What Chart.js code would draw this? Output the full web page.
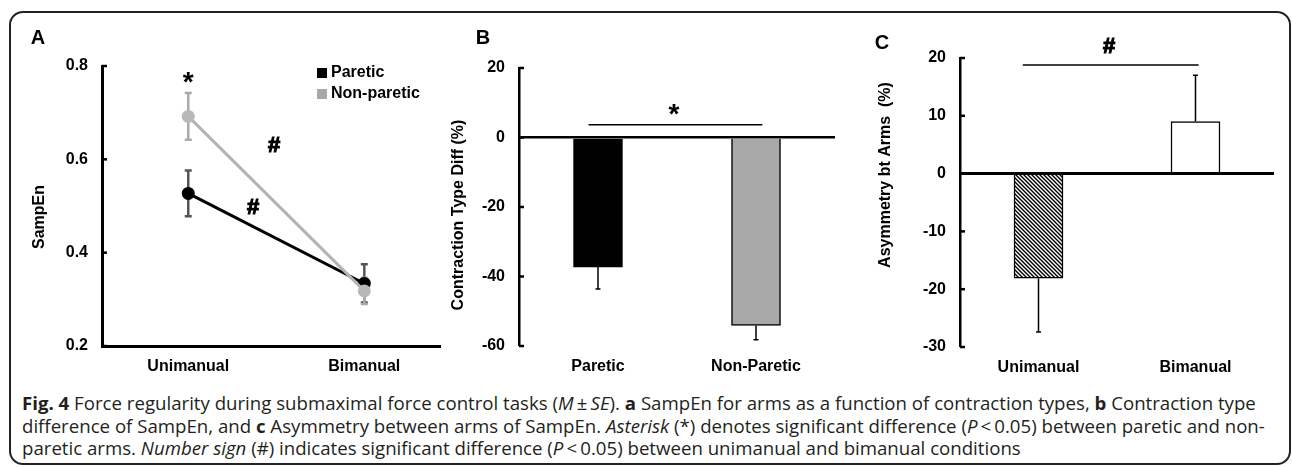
<!DOCTYPE html>
<html>
<head>
<meta charset="utf-8">
<script src="https://cdn.jsdelivr.net/npm/chart.js@4.4.0/dist/chart.umd.min.js"></script>
<style>
  body { margin: 0; width: 1292px; height: 467px; background: #fff; position: relative; overflow: hidden; }
  .frame { position: absolute; left: 9px; top: 11px; width: 1278px; height: 450px; border: 2px solid #222; border-radius: 14px; }
  .panel { position: absolute; top: 0; }
  #caption { position: absolute; left: 22px; top: 392px; font-family: "Open Sans", sans-serif; font-size: 18.65px;
             line-height: 22.5px; color: #231f20; white-space: nowrap; }
  #fontprobe { position: absolute; left: -999px; top: 0; font: bold 16px "Liberation Sans"; }
</style>
</head>
<body>
<div class="frame"></div>
<span id="fontprobe">Unimanual 0.8 #*</span>
<canvas id="chartA" class="panel" style="left:0px" width="450" height="380"></canvas>
<canvas id="chartB" class="panel" style="left:450px" width="395" height="380"></canvas>
<canvas id="chartC" class="panel" style="left:845px" width="440" height="380"></canvas>
<div id="caption">
<b>Fig. 4</b> Force regularity during submaximal force control tasks (<i>M</i>&#8201;±&#8201;<i>SE</i>). <b>a</b> SampEn for arms as a function of contraction types, <b>b</b> Contraction type<br>
difference of SampEn, and <b>c</b> Asymmetry between arms of SampEn. <i>Asterisk</i> (*) denotes significant difference (<i>P</i>&#8201;&lt;&#8201;0.05) between paretic and non-<br>
paretic arms. <i>Number sign</i> (#) indicates significant difference (<i>P</i>&#8201;&lt;&#8201;0.05) between unimanual and bimanual conditions
</div>
<script>
// ---- data ----
const contractionTypes = ['Unimanual', 'Bimanual'];
const sampEnParetic = [0.527, 0.334];
const sampEnPareticSE = [0.049, 0.041];
const sampEnNonParetic = [0.692, 0.318];
const sampEnNonPareticSE = [0.05, 0.028];
const ticksA = [0.2, 0.4, 0.6, 0.8];

const armLabels = ['Paretic', 'Non-Paretic'];
const typeDiff = [-37.3, -54.1];
const typeDiffSE = [6.3, 4.1];
const ticksB = [-60, -40, -20, 0, 20];

const asymLabels = ['Unimanual', 'Bimanual'];
const asymmetry = [-18.1, 9.0];
const asymmetrySE = [9.3, 8.0];
const ticksC = [-30, -20, -10, 0, 10, 20];

const FONT = '"Liberation Sans", Arial, sans-serif';

Chart.defaults.font.family = FONT;
Chart.defaults.font.weight = 'bold';
Chart.defaults.font.size = 16;
Chart.defaults.color = '#000';

// hatch pattern for the unimanual bar in C
function hatch() {
  const c = document.createElement('canvas');
  c.width = 4; c.height = 4;
  const g = c.getContext('2d');
  g.fillStyle = '#fff';
  g.fillRect(0, 0, 4, 4);
  g.strokeStyle = '#000';
  g.lineWidth = 1.4;
  for (let k = -1; k <= 1; k++) {
    g.beginPath();
    g.moveTo(k * 4 - 1, -1);
    g.lineTo(k * 4 + 5, 5);
    g.stroke();
  }
  return g.createPattern(c, 'repeat');
}

function xAt(scale, v) {
  if (scale.type === 'linear') return scale.getPixelForValue(v);
  const p0 = scale.getPixelForValue(0), p1 = scale.getPixelForValue(1);
  return p0 + v * (p1 - p0);
}

const decor = {
  id: 'decor',
  beforeDatasetsDraw(chart) {
    const { ctx, scales: { y } } = chart;
    chart.data.datasets.forEach((ds, di) => {
      if (!ds.errors) return;
      const meta = chart.getDatasetMeta(di);
      ctx.save();
      ctx.strokeStyle = ds.errorColor;
      ctx.lineWidth = ds.errorWidth;
      meta.data.forEach((el, i) => {
        const d = ds.data[i];
        const v = typeof d === 'object' ? d.y : d;
        const e = ds.errors[i];
        const lo = ds.oneSided ? v : v - e;
        const hi = ds.oneSided ? v + Math.sign(v) * e : v + e;
        const px = el.x, y1 = y.getPixelForValue(lo), y2 = y.getPixelForValue(hi);
        ctx.beginPath();
        ctx.moveTo(px, y1); ctx.lineTo(px, y2);
        const ends = ds.oneSided ? [y2] : [y1, y2];
        ends.forEach(yy => { ctx.moveTo(px - ds.capHalf, yy); ctx.lineTo(px + ds.capHalf, yy); });
        ctx.stroke();
      });
      ctx.restore();
    });
  },
  afterDraw(chart) {
    const o = chart.options.plugins.decor;
    const { ctx, scales: { x, y } } = chart;
    ctx.save();
    // inward ticks on the y axis
    ctx.strokeStyle = '#000';
    ctx.lineWidth = o.tickWidth;
    y.ticks.forEach(t => {
      const py = y.getPixelForValue(t.value);
      ctx.beginPath();
      ctx.moveTo(x.left, py); ctx.lineTo(x.left + o.tickLen, py);
      ctx.stroke();
    });
    // panel letter
    ctx.fillStyle = '#000';
    ctx.textAlign = 'center';
    ctx.textBaseline = 'middle';
    ctx.font = 'bold 20px ' + FONT;
    ctx.fillText(o.letter.text, o.letter.x, o.letter.y);
    // y title
    ctx.save();
    ctx.translate(o.yTitle.x, o.yTitle.y);
    ctx.rotate(-Math.PI / 2);
    ctx.font = 'bold 16px ' + FONT;
    ctx.fillText(o.yTitle.text, 0, 0);
    ctx.restore();
    // significance lines
    (o.lines || []).forEach(l => {
      const py = y.getPixelForValue(l.y);
      ctx.lineWidth = 1.5;
      ctx.beginPath();
      ctx.moveTo(xAt(x, l.x1), py); ctx.lineTo(xAt(x, l.x2), py);
      ctx.stroke();
    });
    // significance marks (# drawn with a thin outline so it reads as heavy)
    (o.marks || []).forEach(m => {
      ctx.font = 'bold ' + m.size + 'px ' + FONT;
      const px = xAt(x, m.x), py = y.getPixelForValue(m.y);
      ctx.fillText(m.text, px, py);
      if (m.text === '#') {
        ctx.lineWidth = 1.1;
        ctx.strokeText(m.text, px, py);
      }
    });
    // legend
    if (o.legend) {
      ctx.textAlign = 'left';
      ctx.font = 'bold 16px ' + FONT;
      chart.data.datasets.forEach((ds, i) => {
        const ly = o.legend.y + i * o.legend.gap;
        ctx.fillStyle = ds.legendColor;
        ctx.fillRect(o.legend.x, ly - 5, 10, 10);
        ctx.fillStyle = '#000';
        ctx.fillText(ds.label, o.legend.x + 14, ly);
      });
    }
    ctx.restore();
  }
};

const noGrid = { display: false, drawTicks: false };

function build() {
  // ---- A: SampEn by contraction type ----
  new Chart(document.getElementById('chartA'), {
    type: 'line',
    data: {
      datasets: [
        {
          label: 'Paretic', data: sampEnParetic.map((v, i) => ({ x: i, y: v })),
          borderColor: '#000', backgroundColor: '#000', pointBackgroundColor: '#000', pointBorderWidth: 0,
          borderWidth: 3, pointRadius: 6.5, order: 1, legendColor: '#000',
          errors: sampEnPareticSE, errorColor: '#555', errorWidth: 2.5, capHalf: 3.5
        },
        {
          label: 'Non-paretic', data: sampEnNonParetic.map((v, i) => ({ x: i, y: v })),
          borderColor: '#b3b3b3', backgroundColor: '#b3b3b3', pointBackgroundColor: '#b8b8b8', pointBorderWidth: 0,
          borderWidth: 3, pointRadius: 6.5, order: 0, legendColor: '#a8a8a8',
          errors: sampEnNonPareticSE, errorColor: '#aaa', errorWidth: 2.5, capHalf: 3.5
        }
      ]
    },
    options: {
      responsive: false, animation: false,
      layout: { padding: { top: 66, right: 10, left: 0, bottom: 0 } },
      plugins: {
        legend: { display: false }, tooltip: { enabled: false },
        decor: {
          letter: { text: 'A', x: 38, y: 38 },
          yTitle: { text: 'SampEn', x: 40, y: 217 },
          tickLen: 5, tickWidth: 2.5,
          legend: { x: 317, y: 73, gap: 21 },
          marks: [
            { text: '*', x: 0, y: 0.762, size: 28 },
            { text: '#', x: 0.487, y: 0.629, size: 22 },
            { text: '#', x: 0.368, y: 0.496, size: 22 }
          ]
        }
      },
      scales: {
        x: {
          type: 'linear', min: -0.49, max: 1.43,
          afterBuildTicks: s => { s.ticks = contractionTypes.map((c, i) => ({ value: i })); },
          ticks: { callback: v => contractionTypes[v], padding: 11, maxRotation: 0, autoSkip: false },
          grid: noGrid, border: { display: true, color: '#000', width: 3 },
          afterFit: s => { s.height = 34; }
        },
        y: {
          min: 0.2, max: 0.8,
          afterBuildTicks: s => { s.ticks = ticksA.map(v => ({ value: v })); },
          ticks: { callback: v => v.toFixed(1), padding: 14 },
          grid: noGrid, border: { display: true, color: '#000', width: 3 },
          afterFit: s => { s.width = 102; }
        }
      }
    },
    plugins: [decor]
  });

  // ---- B: contraction type difference ----
  new Chart(document.getElementById('chartB'), {
    type: 'bar',
    data: {
      labels: armLabels,
      datasets: [{
        label: 'Contraction Type Diff', data: typeDiff,
        backgroundColor: ['#000', '#a8a8a8'], borderColor: '#000', borderWidth: 1.5, barThickness: 49,
        errors: typeDiffSE, oneSided: true, errorColor: '#000', errorWidth: 1.5, capHalf: 2.5
      }]
    },
    options: {
      responsive: false, animation: false,
      layout: { padding: { top: 68, right: 10, left: 0, bottom: 0 } },
      plugins: {
        legend: { display: false }, tooltip: { enabled: false },
        decor: {
          letter: { text: 'B', x: 33, y: 38 },
          yTitle: { text: 'Contraction Type Diff (%)', x: 9, y: 215 },
          tickLen: 5, tickWidth: 2.5,
          lines: [{ x1: -0.06, x2: 1.04, y: 3.7 }],
          marks: [{ text: '*', x: 0.48, y: 6.5, size: 28 }]
        }
      },
      scales: {
        x: {
          ticks: { padding: 11, maxRotation: 0 },
          grid: noGrid, border: { display: false },
          afterFit: s => { s.height = 34; }
        },
        y: {
          min: -60, max: 20,
          afterBuildTicks: s => { s.ticks = ticksB.map(v => ({ value: v })); },
          ticks: { padding: 14 },
          grid: {
            drawTicks: false,
            color: c => c.tick && c.tick.value === 0 ? '#000' : 'rgba(0,0,0,0)',
            lineWidth: c => c.tick && c.tick.value === 0 ? 2.5 : 0
          },
          border: { display: true, color: '#000', width: 2.5 },
          afterFit: s => { s.width = 69; }
        }
      }
    },
    plugins: [decor]
  });

  // ---- C: asymmetry between arms ----
  new Chart(document.getElementById('chartC'), {
    type: 'bar',
    data: {
      labels: asymLabels,
      datasets: [{
        label: 'Asymmetry', data: asymmetry,
        backgroundColor: [hatch(), '#fff'], borderColor: '#000', borderWidth: 1.5, barThickness: 49,
        errors: asymmetrySE, oneSided: true, errorColor: '#000', errorWidth: 1.5, capHalf: 2.5
      }]
    },
    options: {
      responsive: false, animation: false,
      layout: { padding: { top: 58, right: 11, left: 0, bottom: 0 } },
      plugins: {
        legend: { display: false }, tooltip: { enabled: false },
        decor: {
          letter: { text: 'C', x: 37, y: 43 },
          yTitle: { text: 'Asymmetry bt Arms  (%)', x: 41, y: 175 },
          tickLen: 5, tickWidth: 2.5,
          lines: [{ x1: -0.1, x2: 1.02, y: 18.8 }],
          marks: [{ text: '#', x: 0.45, y: 21.9, size: 22 }]
        }
      },
      scales: {
        x: {
          ticks: { padding: 11, maxRotation: 0 },
          grid: noGrid, border: { display: false },
          afterFit: s => { s.height = 33; }
        },
        y: {
          min: -30, max: 20,
          afterBuildTicks: s => { s.ticks = ticksC.map(v => ({ value: v })); },
          ticks: { padding: 14 },
          grid: {
            drawTicks: false,
            color: c => c.tick && c.tick.value === 0 ? '#000' : 'rgba(0,0,0,0)',
            lineWidth: c => c.tick && c.tick.value === 0 ? 3 : 0
          },
          border: { display: true, color: '#000', width: 2.5 },
          afterFit: s => { s.width = 115; }
        }
      }
    },
    plugins: [decor]
  });
}

document.fonts.load('bold 16px "Liberation Sans"').then(build, build);
</script>
</body>
</html>
